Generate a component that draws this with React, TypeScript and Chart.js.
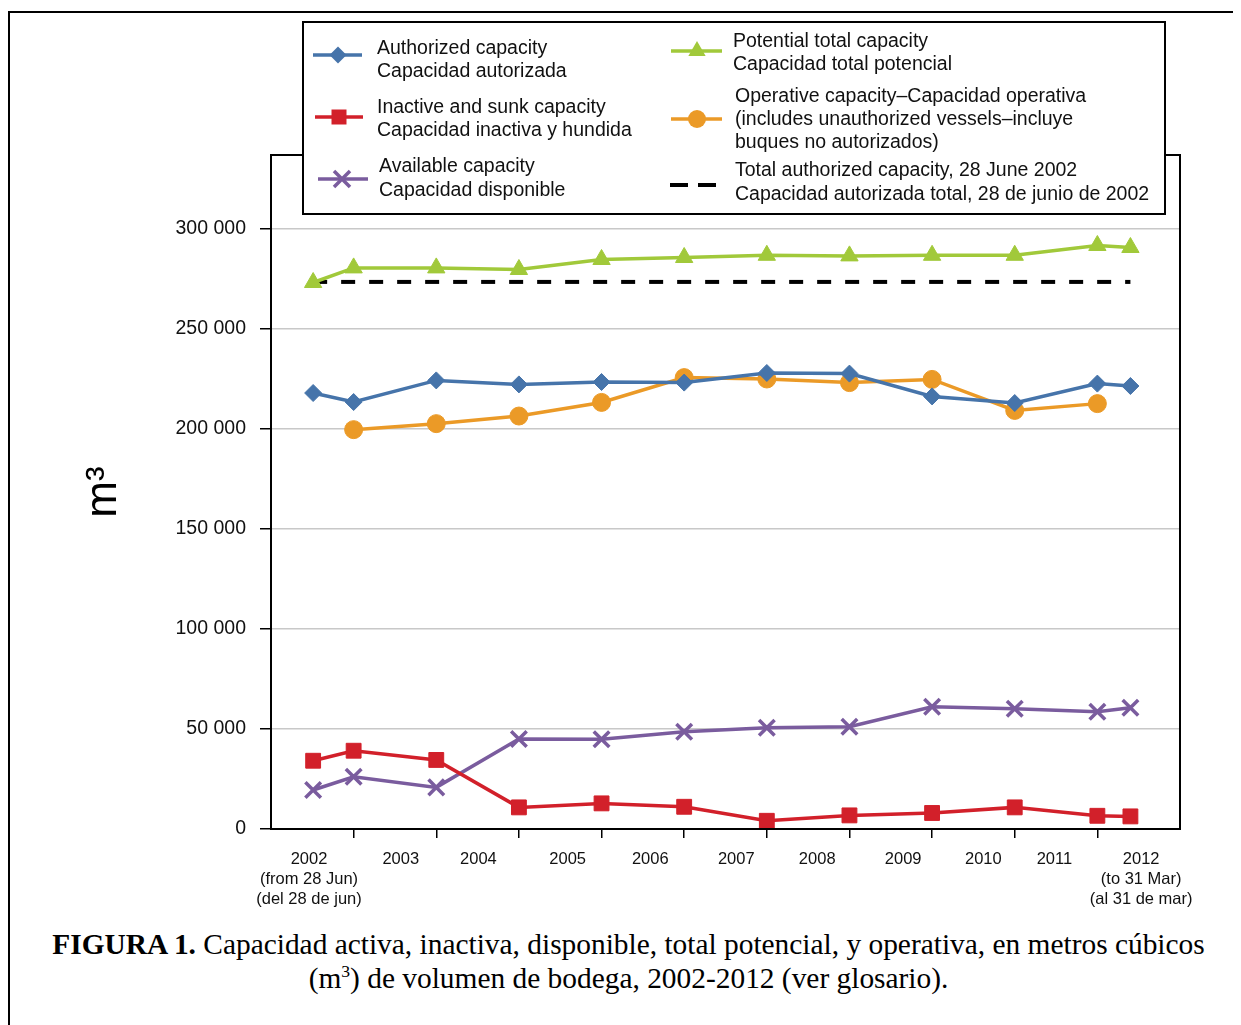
import React, { useEffect, useRef } from 'react';
import { Chart, registerables } from 'chart.js';

Chart.register(...registerables);

// ---- data ----
const periodLabels: (string | string[])[] = [
  ['2002', '(from 28 Jun)', '(del 28 de jun)'],
  '2003', '2004', '2005', '2006', '2007', '2008', '2009', '2010', '2011',
  ['2012', '(to 31 Mar)', '(al 31 de mar)'],
];
// where each period label sits on the period axis (2002 = 0..1, 2003 = 1..2, ...)
const periodLabelPositions = [0.46, 1.57, 2.51, 3.59, 4.59, 5.63, 6.61, 7.65, 8.62, 9.48, 10.53];
const periodBoundaries = [1, 2, 3, 4, 5, 6, 7, 8, 9, 10];
// position of each observation on the period axis
const pointPositions = [0.51, 1, 2, 3, 4, 5, 6, 7, 8, 9, 10, 10.4];

const authorized = [217800, 213300, 224100, 222100, 223300, 223000, 227800, 227500, 216100, 212800, 222500, 221300];
const inactive = [34100, 39100, 34500, 10800, 12800, 11100, 4100, 6800, 8000, 10800, 6600, 6300];
const available = [19500, 26100, 20800, 45000, 44800, 48600, 50600, 51100, 61100, 60100, 58600, 60600];
const potential = [273000, 280300, 280300, 279500, 284500, 285500, 286600, 286300, 286600, 286600, 291500, 290500];
const operative: (number | null)[] = [null, 199500, 202500, 206300, 213100, 225500, 224800, 223000, 224600, 209100, 212500, null];
const authorizedJune2002 = 273300;
const yTicks = [0, 50000, 100000, 150000, 200000, 250000, 300000];

const COLORS = {
  authorized: '#4674aa',
  inactive: '#d2202a',
  available: '#7a5c9e',
  potential: '#a1c93a',
  operative: '#eb9a27',
  reference: '#000000',
};

const SANS = '"Liberation Sans", Arial, Helvetica, sans-serif';

const fmt = (v: number) => String(v).replace(/\B(?=(\d{3})+(?!\d))/g, ' ');

const toPoints = (arr: (number | null)[]) => arr.map((y, i) => ({ x: pointPositions[i], y }));

type Marker = 'diamond' | 'square' | 'cross' | 'triangle' | 'circle' | 'dash';

function drawMarker(ctx: CanvasRenderingContext2D, kind: Marker, x: number, y: number, color: string) {
  ctx.save();
  ctx.fillStyle = color;
  ctx.strokeStyle = color;
  ctx.beginPath();
  if (kind === 'diamond') {
    const r = 8.5;
    ctx.moveTo(x, y - r); ctx.lineTo(x + r, y); ctx.lineTo(x, y + r); ctx.lineTo(x - r, y); ctx.closePath(); ctx.fill();
  } else if (kind === 'square') {
    const s = 7.5;
    ctx.rect(x - s, y - s, 2 * s, 2 * s); ctx.fill();
  } else if (kind === 'cross') {
    const o = 8;
    ctx.lineWidth = 3.5;
    ctx.moveTo(x - o, y - o); ctx.lineTo(x + o, y + o); ctx.moveTo(x + o, y - o); ctx.lineTo(x - o, y + o); ctx.stroke();
  } else if (kind === 'triangle') {
    const r = 10;
    ctx.moveTo(x, y - r);
    ctx.lineTo(x + r * Math.sin(2 * Math.PI / 3), y - r * Math.cos(2 * Math.PI / 3));
    ctx.lineTo(x + r * Math.sin(4 * Math.PI / 3), y - r * Math.cos(4 * Math.PI / 3));
    ctx.closePath(); ctx.fill();
  } else if (kind === 'circle') {
    ctx.arc(x, y, 9, 0, Math.PI * 2); ctx.fill();
  }
  ctx.restore();
}

const legendEntries: { marker: Marker; color: string; x0: number; x1: number; mx: number; my: number; tx: number; lines: string[]; ly: number[] }[] = [
  { marker: 'diamond', color: COLORS.authorized, x0: 305, x1: 354, mx: 330, my: 47, tx: 369, lines: ['Authorized capacity', 'Capacidad autorizada'], ly: [41, 64] },
  { marker: 'square', color: COLORS.inactive, x0: 307, x1: 355, mx: 331, my: 109, tx: 369, lines: ['Inactive and sunk capacity', 'Capacidad inactiva y hundida'], ly: [100, 123] },
  { marker: 'cross', color: COLORS.available, x0: 310, x1: 360, mx: 334, my: 171, tx: 371, lines: ['Available capacity', 'Capacidad disponible'], ly: [159, 183] },
  { marker: 'triangle', color: COLORS.potential, x0: 663, x1: 714, mx: 689, my: 43, tx: 725, lines: ['Potential total capacity', 'Capacidad total potencial'], ly: [34, 57] },
  { marker: 'circle', color: COLORS.operative, x0: 663, x1: 714, mx: 689, my: 111, tx: 727, lines: ['Operative capacity\u2013Capacidad operativa', '(includes unauthorized vessels\u2013incluye', 'buques no autorizados)'], ly: [89, 112, 135] },
  { marker: 'dash', color: COLORS.reference, x0: 662, x1: 708, mx: 685, my: 177, tx: 727, lines: ['Total authorized capacity, 28 June 2002', 'Capacidad autorizada total, 28 de junio de 2002'], ly: [163, 187] },
];

const framePlugin = {
  id: 'frameAndLegend',
  afterDraw(chart: any) {
    const { ctx, chartArea } = chart;
    ctx.save();
    // plot box
    ctx.strokeStyle = '#000';
    ctx.lineWidth = 2;
    ctx.strokeRect(chartArea.left, chartArea.top, chartArea.right - chartArea.left, chartArea.bottom - chartArea.top);
    // legend box
    ctx.fillStyle = '#fff';
    ctx.fillRect(295, 14, 862, 192);
    ctx.strokeRect(295, 14, 862, 192);
    ctx.font = `19.5px ${SANS}`;
    ctx.textBaseline = 'middle';
    ctx.textAlign = 'left';
    for (const e of legendEntries) {
      ctx.save();
      ctx.strokeStyle = e.color;
      ctx.lineWidth = 3.5;
      if (e.marker === 'dash') {
        ctx.lineWidth = 4;
        ctx.beginPath();
        ctx.moveTo(e.x0, e.my); ctx.lineTo(e.x0 + 18, e.my);
        ctx.moveTo(e.x1 - 18, e.my); ctx.lineTo(e.x1, e.my);
        ctx.stroke();
      } else {
        ctx.beginPath();
        ctx.moveTo(e.x0, e.my); ctx.lineTo(e.x1, e.my);
        ctx.stroke();
        drawMarker(ctx, e.marker, e.mx, e.my, e.color);
      }
      ctx.restore();
      ctx.fillStyle = '#111';
      e.lines.forEach((t, i) => ctx.fillText(t, e.tx, e.ly[i]));
    }
    ctx.restore();
  },
};

export default function App() {
  const ref = useRef<HTMLCanvasElement | null>(null);

  useEffect(() => {
    document.body.style.overflow = 'hidden';
    if (!ref.current) return;
    const common = { borderWidth: 3.5, pointBorderWidth: 1, fill: false, tension: 0 };
    const chart = new Chart(ref.current, {
      type: 'line',
      data: {
        datasets: [
          {
            ...common, label: 'Authorized capacity', data: toPoints(authorized), order: 1,
            borderColor: COLORS.authorized, backgroundColor: COLORS.authorized,
            pointStyle: 'rectRot', pointRadius: 8.5,
          },
          {
            ...common, label: 'Inactive and sunk capacity', data: toPoints(inactive), order: 2,
            borderColor: COLORS.inactive, backgroundColor: COLORS.inactive,
            pointStyle: 'rect', pointRadius: 10.5,
          },
          {
            ...common, label: 'Available capacity', data: toPoints(available), order: 3,
            borderColor: COLORS.available, backgroundColor: COLORS.available,
            pointStyle: 'crossRot', pointRadius: 11, pointBorderWidth: 3.5,
          },
          {
            ...common, label: 'Potential total capacity', data: toPoints(potential), order: 4,
            borderColor: COLORS.potential, backgroundColor: COLORS.potential,
            pointStyle: 'triangle', pointRadius: 10,
          },
          {
            ...common, label: 'Operative capacity', data: toPoints(operative), order: 5,
            borderColor: COLORS.operative, backgroundColor: COLORS.operative,
            pointStyle: 'circle', pointRadius: 9, spanGaps: false,
          },
          {
            label: 'Total authorized capacity, 28 June 2002', order: 6,
            data: [
              { x: pointPositions[0], y: authorizedJune2002 },
              { x: pointPositions[pointPositions.length - 1], y: authorizedJune2002 },
            ],
            borderColor: COLORS.reference, borderWidth: 4, borderDash: [14, 14],
            pointRadius: 0, fill: false,
          },
        ],
      } as any,
      options: {
        animation: false,
        responsive: false,
        maintainAspectRatio: false,
        layout: { padding: { left: 60, top: 147, right: 61, bottom: 9 } },
        plugins: { legend: { display: false }, tooltip: { enabled: false } },
        scales: {
          x: {
            type: 'linear', position: 'bottom', min: 0, max: 11,
            afterBuildTicks: (s: any) => { s.ticks = periodBoundaries.map((v) => ({ value: v })); },
            afterFit: (s: any) => { s.height = 10; },
            ticks: { callback: () => '', autoSkip: false, maxRotation: 0, padding: 0 },
            grid: { drawOnChartArea: false, drawTicks: true, tickLength: 9, tickColor: '#000', lineWidth: 1.5 },
            border: { display: true, color: '#000', width: 2 },
          },
          x2: {
            type: 'linear', position: 'bottom', min: 0, max: 11,
            afterBuildTicks: (s: any) => { s.ticks = periodLabelPositions.map((v) => ({ value: v })); },
            afterFit: (s: any) => { s.height = 70; },
            ticks: {
              callback: (_v: any, i: number) => periodLabels[i] as any,
              autoSkip: false, maxRotation: 0, minRotation: 0, padding: 11,
              font: { size: 16.5, family: SANS, lineHeight: 1.2 }, color: '#111',
            },
            grid: { display: false, drawTicks: false },
            border: { display: false },
          },
          y: {
            type: 'linear', min: 0, max: 336700,
            afterBuildTicks: (s: any) => { s.ticks = yTicks.map((v) => ({ value: v })); },
            afterFit: (s: any) => { s.width = 203; },
            ticks: { callback: (v: any) => fmt(Number(v)), padding: 14, font: { size: 19.5, family: SANS }, color: '#111' },
            grid: { color: '#c8c8c8', lineWidth: 1.5, tickColor: '#000', tickLength: 11, drawTicks: true },
            border: { color: '#000', width: 2 },
            title: { display: true, text: 'm\u00b3', font: { size: 44, family: SANS }, color: '#000', padding: { top: 9, bottom: 0 } },
          },
        },
      } as any,
      plugins: [framePlugin],
    });
    return () => chart.destroy();
  }, []);

  return (
    <div style={{ position: 'relative', width: 1233, height: 1017, overflow: 'hidden', background: '#fff' }}>
      <div style={{ position: 'absolute', left: 0, top: 3, width: 1400, height: 1200, borderLeft: '2px solid #000', borderTop: '2px solid #000' }} />
      <canvas ref={ref} width={1233} height={910} style={{ position: 'absolute', left: 0, top: 0, width: 1233, height: 910 }} />
      <div
        style={{
          position: 'absolute', left: 8, top: 919, width: 1225, textAlign: 'center',
          fontFamily: '"Liberation Serif", "Times New Roman", Times, serif', fontSize: 29.4, lineHeight: '34px', color: '#000',
        }}
      >
        <b>FIGURA 1.</b> Capacidad activa, inactiva, disponible, total potencial, y operativa, en metros cúbicos
        <br />
        (m<sup style={{ fontSize: '60%', lineHeight: 0 }}>3</sup>) de volumen de bodega, 2002-2012 (ver glosario).
      </div>
    </div>
  );
}
